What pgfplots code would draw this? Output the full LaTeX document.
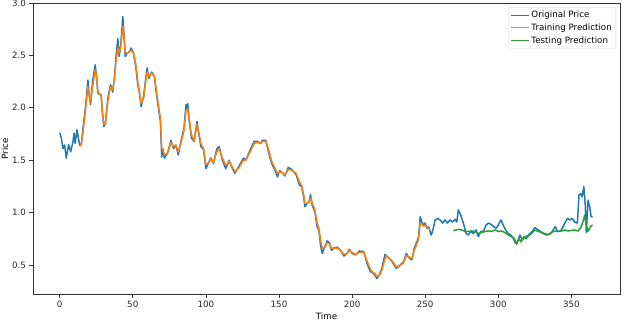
\documentclass[border=0pt]{standalone}
\usepackage{fontspec}
\setmainfont{DejaVu Sans}
\usepackage{pgfplots}
\pgfplotsset{compat=1.18}
\definecolor{tabblue}{HTML}{1F77B4}
\definecolor{taborange}{HTML}{FF7F0E}
\definecolor{tabgreen}{HTML}{2CA02C}
\begin{document}
\begin{tikzpicture}
\begin{axis}[
  scale only axis, width=587pt, height=291pt,
  xmin=-18.25, xmax=383.25, ymin=0.223, ymax=3.0,
  axis line style={black!80, line width=0.7pt},
  tick align=outside, major tick length=3.5pt,
  tick style={black!80, line width=0.6pt},
  xtick pos=bottom, ytick pos=left,
  xtick={0,50,...,350}, ytick={0.5,1.0,1.5,2.0,2.5,3.0},
  yticklabel style={/pgf/number format/.cd, fixed, fixed zerofill, precision=1},
  /pgf/number format/assume math mode=true,
  tick label style={font=\fontsize{8.7}{10}\selectfont, text=black!85},
  xlabel={Time}, ylabel={Price},
  every axis x label/.style={at={(axis description cs:0.5,-0.075)}, anchor=center, font=\fontsize{8.7}{10}\selectfont},
  every axis y label/.style={at={(axis description cs:-0.048,0.5)}, anchor=center, rotate=90, font=\fontsize{8.7}{10}\selectfont},
  legend cell align=left,
  legend style={at={(axis description cs:1,1)}, xshift=-4pt, yshift=-4pt, anchor=north east,
    draw=black!15, rounded corners=2pt, fill=white, font=\fontsize{8.7}{10.5}\selectfont,
    inner sep=2pt, row sep=0.5pt},
  legend image code/.code={\draw[#1, line width=1.2pt] (0pt,0pt) -- (18pt,0pt);},
  every axis plot/.append style={line width=1.5pt, line join=round},
]
\addplot[tabblue] coordinates {
(0,1.76)(1,1.72)(2.3,1.61)(3.4,1.645)(4.5,1.52)(6.1,1.65)(7.5,1.58)(9.1,1.676)(9.8,1.757)(10.6,1.66)(11.8,1.79)(13.6,1.645)(14.8,1.65)(15.9,1.80)(17.2,1.95)(18.3,2.10)(19.3,2.265)(20.2,2.12)(21.1,2.03)(22.5,2.25)(24.3,2.41)(25.2,2.30)(26.1,2.14)(27.2,2.13)(28.4,2.12)(29.2,1.95)(30.2,1.82)(31.3,1.85)(32.9,2.09)(34.8,2.22)(36.3,2.15)(37.5,2.30)(38.6,2.50)(39.8,2.66)(40.7,2.49)(41.8,2.60)(43.2,2.87)(44.0,2.70)(44.8,2.49)(46.1,2.52)(47.5,2.53)(48.9,2.57)(50.5,2.52)(52.0,2.40)(53.4,2.22)(54.5,2.15)(55.7,2.01)(57.5,2.12)(58.6,2.25)(59.8,2.38)(60.9,2.28)(62.9,2.34)(64.8,2.30)(66.0,2.15)(67.5,2.00)(68.9,1.87)(69.8,1.53)(70.5,1.61)(71.6,1.52)(73.8,1.566)(76.1,1.69)(77.9,1.61)(79.5,1.645)(81.1,1.55)(83.4,1.71)(85.0,1.80)(86.4,2.03)(87.0,1.98)(87.6,2.04)(88.8,1.85)(90.2,1.71)(92,1.68)(93.9,1.87)(95.5,1.72)(96.6,1.63)(98.4,1.60)(100,1.42)(101.6,1.47)(103.4,1.52)(105.2,1.47)(107.5,1.61)(109.1,1.63)(111.3,1.50)(113.6,1.42)(115.9,1.50)(117.5,1.44)(119.8,1.375)(122.7,1.445)(125.7,1.52)(127.3,1.50)(130.7,1.61)(133,1.68)(135.2,1.68)(137.5,1.66)(138.6,1.69)(140.9,1.69)(142.5,1.60)(143.9,1.52)(145,1.47)(147.7,1.39)(148.9,1.34)(150.5,1.40)(152.3,1.38)(154.1,1.35)(156.3,1.43)(158,1.42)(160.2,1.39)(161.8,1.36)(164.1,1.26)(165.5,1.25)(167,1.136)(167.7,1.056)(169.3,1.09)(170.5,1.10)(171.6,1.17)(172.7,1.07)(174.5,1.01)(176.1,0.865)(177.3,0.83)(178.4,0.69)(179.5,0.61)(181.4,0.675)(183,0.73)(184.6,0.71)(185.9,0.64)(187.5,0.66)(189.8,0.67)(192.1,0.64)(194.4,0.586)(196.6,0.61)(198.2,0.65)(200,0.61)(202.3,0.595)(205,0.634)(208,0.627)(210.2,0.516)(212.5,0.436)(214.1,0.427)(215.5,0.405)(217,0.37)(218.6,0.405)(220.4,0.468)(222.5,0.60)(225,0.565)(226.6,0.548)(228.4,0.507)(230.2,0.468)(231.8,0.484)(233.4,0.507)(235.2,0.53)(237.1,0.61)(238.6,0.573)(240.9,0.548)(242.5,0.66)(244.3,0.72)(245.5,0.77)(246.6,0.96)(247.7,0.91)(248.9,0.88)(250,0.90)(251.1,0.85)(252.3,0.865)(254.1,0.786)(255.2,0.83)(256.8,0.93)(258.4,0.945)(260.2,0.93)(262,0.90)(263.6,0.93)(265.2,0.90)(267,0.93)(268.6,0.91)(270.5,0.935)(271.6,0.91)(272.7,1.025)(274.3,0.977)(276.1,0.90)(278,0.80)(279.5,0.786)(281.1,0.82)(283,0.80)(284.8,0.834)(286.4,0.77)(288,0.82)(289.8,0.82)(291.6,0.88)(293.2,0.90)(294.8,0.89)(296.6,0.87)(298.4,0.85)(300,0.88)(301.8,0.93)(303.4,0.88)(305,0.834)(306.8,0.80)(308.7,0.786)(310.2,0.755)(311.8,0.707)(313.2,0.72)(314.8,0.786)(316.4,0.74)(318.2,0.77)(320,0.777)(321.6,0.80)(323.2,0.82)(325,0.856)(326.8,0.84)(328.4,0.824)(330.7,0.80)(332.9,0.786)(334.5,0.79)(336.4,0.81)(338.2,0.85)(339.1,0.865)(340.5,0.82)(342.7,0.824)(344.3,0.865)(345.9,0.91)(347.3,0.945)(348.9,0.93)(350.5,0.945)(352.3,0.91)(354.1,0.90)(355.2,1.17)(356.4,1.18)(357.3,1.15)(358.5,1.25)(359.5,1.07)(360.2,0.81)(361.4,1.12)(362.5,1.056)(363.5,0.96)(364.5,0.96)
};
\addlegendentry{Original Price}
\addplot[taborange] coordinates {
(13.6,1.63)(14.8,1.66)(15.9,1.76)(17.2,1.92)(18.3,2.06)(19.3,2.20)(20.2,2.12)(21.1,2.05)(22.5,2.20)(24.3,2.36)(25.2,2.30)(26.1,2.16)(27.2,2.13)(28.4,2.11)(29.2,1.97)(30.2,1.84)(31.3,1.85)(32.9,2.06)(34.8,2.20)(36.3,2.17)(37.5,2.28)(38.6,2.45)(39.8,2.58)(40.7,2.52)(41.8,2.58)(43.2,2.78)(44.0,2.68)(44.8,2.53)(46.1,2.52)(47.5,2.53)(48.9,2.55)(50.5,2.52)(52.0,2.42)(53.4,2.25)(54.5,2.16)(55.7,2.04)(57.5,2.10)(58.6,2.22)(59.8,2.34)(60.9,2.30)(62.9,2.33)(64.8,2.30)(66.0,2.18)(67.5,2.03)(68.9,1.90)(69.8,1.62)(70.5,1.60)(71.6,1.55)(73.8,1.57)(76.1,1.67)(77.9,1.63)(79.5,1.64)(81.1,1.58)(83.4,1.69)(85.0,1.78)(86.4,1.97)(87.5,1.99)(88.8,1.87)(90.2,1.74)(92,1.69)(93.9,1.84)(95.5,1.74)(96.6,1.66)(98.4,1.61)(100,1.46)(101.6,1.47)(103.4,1.51)(105.2,1.48)(107.5,1.58)(109.1,1.61)(111.3,1.52)(113.6,1.45)(115.9,1.49)(117.5,1.45)(119.8,1.39)(122.7,1.43)(125.7,1.50)(127.3,1.50)(130.7,1.59)(133,1.66)(135.2,1.67)(137.5,1.66)(138.6,1.68)(140.9,1.68)(142.5,1.62)(143.9,1.55)(145,1.49)(147.7,1.41)(148.9,1.37)(150.5,1.39)(152.3,1.38)(154.1,1.36)(156.3,1.41)(158,1.41)(160.2,1.39)(161.8,1.37)(164.1,1.29)(165.5,1.26)(167,1.16)(167.7,1.09)(169.3,1.09)(170.5,1.10)(171.6,1.14)(172.7,1.09)(174.5,1.03)(176.1,0.90)(177.3,0.85)(178.4,0.74)(179.5,0.66)(181.4,0.67)(183,0.71)(184.6,0.70)(185.9,0.66)(187.5,0.66)(189.8,0.66)(192.1,0.64)(194.4,0.60)(196.6,0.61)(198.2,0.64)(200,0.62)(202.3,0.60)(205,0.62)(208,0.62)(210.2,0.54)(212.5,0.46)(214.1,0.43)(215.5,0.42)(217,0.39)(218.6,0.40)(220.4,0.45)(222.3,0.55)(223.4,0.59)(225,0.57)(226.6,0.55)(228.4,0.52)(230.2,0.48)(231.8,0.49)(233.4,0.50)(235.2,0.52)(237.1,0.59)(238.6,0.58)(240.9,0.56)(242.5,0.64)(244.3,0.70)(245.5,0.75)(246.6,0.90)(247.7,0.89)(248.9,0.87)(250,0.88)(251.1,0.86)(252.3,0.86)(253.5,0.83)
};
\addlegendentry{Training Prediction}
\addplot[tabgreen] coordinates {
(269.3,0.827)(272.7,0.84)(275,0.834)(277.3,0.82)(279.5,0.82)(281.8,0.825)(284,0.82)(286.4,0.80)(288.6,0.81)(290.9,0.82)(293.2,0.825)(295.5,0.82)(297.7,0.834)(300,0.82)(302.3,0.824)(304.5,0.81)(306.8,0.786)(309,0.77)(310.9,0.755)(312.5,0.697)(314.1,0.755)(315.5,0.72)(317.5,0.77)(319,0.75)(320.9,0.78)(322.7,0.80)(325,0.834)(327.3,0.82)(329.5,0.81)(331.8,0.80)(334.1,0.79)(336.4,0.81)(338.6,0.824)(340.9,0.82)(343.2,0.824)(345.5,0.834)(347.7,0.824)(350,0.83)(352.3,0.834)(354.5,0.824)(356.4,0.856)(357.9,0.91)(359.1,0.977)(360.2,0.88)(361.4,0.82)(362.5,0.85)(363.6,0.875)(364.5,0.88)
};
\addlegendentry{Testing Prediction}
\end{axis}
\pgfresetboundingbox
\path ([shift={(-33pt,-34pt)}]current axis.south west) rectangle ([shift={(20pt,3pt)}]current axis.north east);
\end{tikzpicture}
\end{document}
